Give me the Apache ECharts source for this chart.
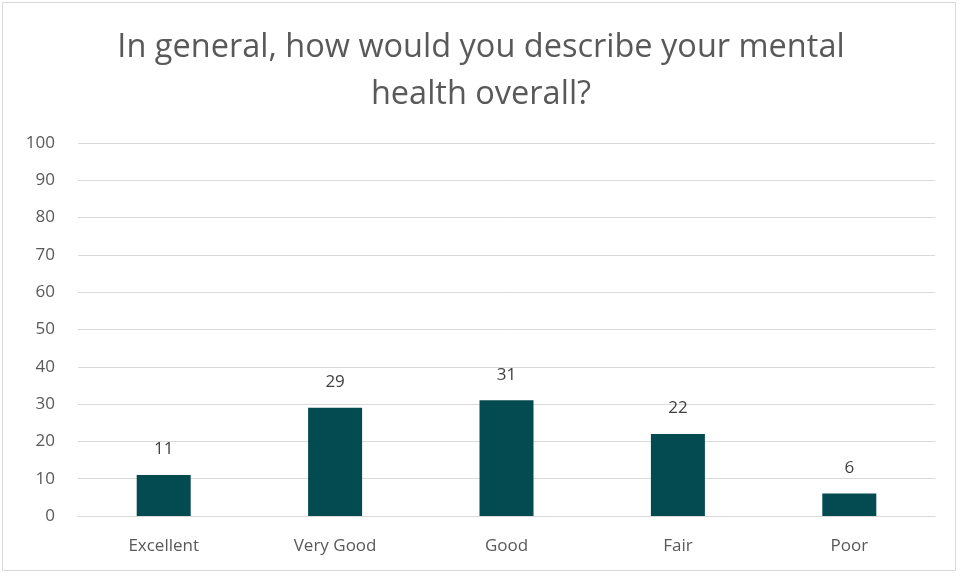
<!DOCTYPE html>
<html><head><meta charset="utf-8">
<script src="https://cdn.jsdelivr.net/npm/echarts@6/dist/echarts.min.js"></script>
<style>html,body{margin:0;padding:0;background:#fff}#c{width:962px;height:576px}</style>
</head><body><div id="c"></div>
<script>
const categories = ["Excellent", "Very Good", "Good", "Fair", "Poor"];
const values = [11, 29, 31, 22, 6];
const titleText = "In general, how would you describe your mental\nhealth overall?";
const font = "'Open Sans', sans-serif";
const chart = echarts.init(document.getElementById('c'));
chart.setOption({
  animation: false,
  backgroundColor: '#fff',
  graphic: [{type:'rect', shape:{x:2.5,y:2.5,width:953,height:568}, style:{fill:'none', stroke:'#d9d9d9', lineWidth:1}}],
  title: {text: titleText, left: 'center', top: 19, textStyle: {fontFamily: font, fontWeight: 'normal', fontSize: 32.5, color: '#595959', lineHeight: 47}},
  grid: {left: 78, right: 27, top: 143, bottom: 60},
  xAxis: {type: 'category', data: categories, axisTick: {show: false},
    axisLine: {lineStyle: {color: '#d9d9d9'}},
    axisLabel: {color: '#595959', fontSize: 17, fontFamily: font, margin: 22}},
  yAxis: {type: 'value', min: 0, max: 100, interval: 10,
    axisLabel: {color: '#595959', fontSize: 17, fontFamily: font, margin: 23},
    splitLine: {lineStyle: {color: '#d9d9d9'}}},
  series: [{type: 'bar', data: values, barWidth: 54, itemStyle: {color: '#034A51'},
    label: {show: true, position: 'top', distance: 17, color: '#404040', fontSize: 17, fontFamily: font}}]
});
</script></body></html>
